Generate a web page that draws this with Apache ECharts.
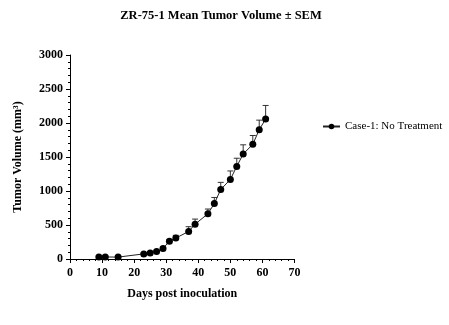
<!DOCTYPE html>
<html>
<head>
<meta charset="utf-8">
<script src="https://cdn.jsdelivr.net/npm/echarts@6/dist/echarts.min.js"></script>
<style>
  html, body { margin: 0; padding: 0; background: #fff; }
  #chart { width: 449px; height: 325px; }
</style>
</head>
<body>
<div id="chart"></div>
<script>
// Tumor growth, ZR-75-1 model: days after inoculation vs. mean volume and SEM
const days = [9, 11, 15, 23, 25, 27, 29, 31, 33, 37, 39, 43, 45, 47, 50, 52, 54, 57, 59, 61];
const meanVolume = [30, 30, 28, 75, 90, 110, 155, 262, 308, 405, 512, 665, 815, 1022, 1170, 1362, 1544, 1686, 1902, 2058];
const semVolume = [5, 5, 5, 10, 12, 15, 20, 25, 40, 70, 75, 70, 90, 105, 125, 120, 135, 130, 140, 200];
const seriesName = 'Case-1: No Treatment';

const serif = '"Liberation Serif", "Times New Roman", serif';

const lineData = days.map((d, i) => [d, meanVolume[i]]);
const errData = days.map((d, i) => [d, meanVolume[i], meanVolume[i] + semVolume[i]]);

const chart = echarts.init(document.getElementById('chart'), null, { renderer: 'canvas' });

chart.setOption({
  animation: false,
  backgroundColor: '#ffffff',
  title: {
    text: 'ZR-75-1 Mean Tumor Volume \u00b1 SEM',
    left: 221,
    top: 9,
    textAlign: 'center',
    padding: 0,
    textStyle: { fontFamily: serif, fontWeight: 'bold', fontSize: 12.5, color: '#000' }
  },
  legend: {
    data: [seriesName],
    left: 322,
    top: 121,
    itemWidth: 17,
    itemHeight: 7,
    itemGap: 6,
    padding: 0,
    textStyle: { fontFamily: serif, fontSize: 11, color: '#000' }
  },
  grid: { left: 70, right: 154.5, top: 55, bottom: 66, containLabel: false },
  xAxis: {
    type: 'value',
    min: 0,
    max: 70,
    interval: 10,
    name: 'Days post inoculation',
    nameLocation: 'middle',
    nameGap: 29,
    nameTextStyle: { fontFamily: serif, fontWeight: 'bold', fontSize: 12, color: '#000' },
    axisLine: { show: true, lineStyle: { color: '#000', width: 1 } },
    axisTick: { show: true, length: 4, lineStyle: { color: '#000' } },
    minorTick: { show: true, splitNumber: 5, length: 2, lineStyle: { color: '#000', width: 1 } },
    axisLabel: { fontFamily: serif, fontWeight: 'bold', fontSize: 12, color: '#000', margin: 8 },
    splitLine: { show: false }
  },
  yAxis: {
    type: 'value',
    min: 0,
    max: 3000,
    interval: 500,
    name: 'Tumor Volume (mm\u00b3)',
    nameLocation: 'middle',
    nameRotate: 90,
    nameGap: 46,
    nameTextStyle: { fontFamily: serif, fontWeight: 'bold', fontSize: 12, color: '#000' },
    axisLine: { show: true, lineStyle: { color: '#000', width: 1 } },
    axisTick: { show: true, length: 4, lineStyle: { color: '#000' } },
    minorTick: { show: true, splitNumber: 5, length: 2, lineStyle: { color: '#000', width: 1 } },
    axisLabel: {
      fontFamily: serif, fontWeight: 'bold', fontSize: 12, color: '#000', margin: 7,
      formatter: function (v) { return String(v); }
    },
    splitLine: { show: false }
  },
  series: [
    {
      // upward SEM whiskers with a short cap
      type: 'custom',
      name: 'SEM',
      data: errData,
      encode: { x: 0, y: [1, 2] },
      z: 1,
      renderItem: function (params, api) {
        const x = api.value(0);
        const base = api.coord([x, api.value(1)]);
        const top = api.coord([x, api.value(2)]);
        const half = 3;
        return {
          type: 'group',
          children: [
            { type: 'line', shape: { x1: base[0], y1: base[1], x2: top[0], y2: top[1] },
              style: { stroke: '#333', lineWidth: 1 } },
            { type: 'line', shape: { x1: top[0] - half, y1: top[1], x2: top[0] + half, y2: top[1] },
              style: { stroke: '#333', lineWidth: 1 } }
          ]
        };
      }
    },
    {
      type: 'line',
      name: seriesName,
      data: lineData,
      z: 2,
      symbol: 'circle',
      symbolSize: 7,
      itemStyle: { color: '#000' },
      lineStyle: { color: '#222', width: 1 }
    }
  ]
});
</script>
</body>
</html>
